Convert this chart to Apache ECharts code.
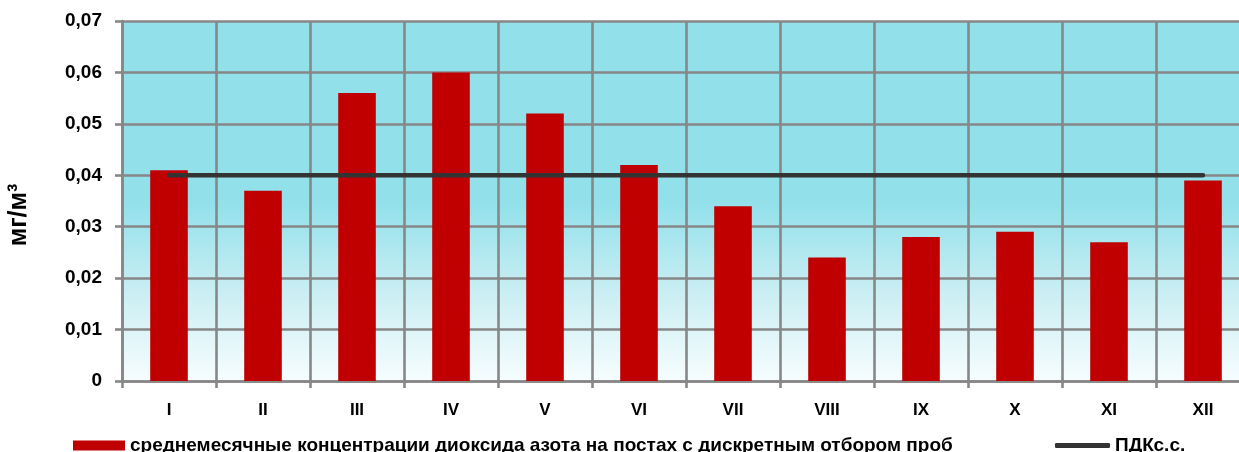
<!DOCTYPE html>
<html>
<head>
<meta charset="utf-8">
<script src="https://cdn.jsdelivr.net/npm/echarts@6/dist/echarts.min.js"></script>
<style>
html,body{margin:0;padding:0;background:#fff;}
#c{width:1239px;height:452px;}
</style>
</head>
<body>
<div id="c"></div>
<script>
const months = ['I','II','III','IV','V','VI','VII','VIII','IX','X','XI','XII'];
const no2Values = [0.041,0.037,0.056,0.060,0.052,0.042,0.034,0.024,0.028,0.029,0.027,0.039];
const pdkValues = [0.04,0.04,0.04,0.04,0.04,0.04,0.04,0.04,0.04,0.04,0.04,0.04];
const barName = 'среднемесячные концентрации диоксида азота на постах с дискретным отбором проб';
const lineName = 'ПДКс.с.';
const yAxisName = 'мг/м³';

const FONT = '"Liberation Sans", Arial, sans-serif';
const GRID = '#878787';

const chart = echarts.init(document.getElementById('c'), null, {renderer:'canvas'});
chart.setOption({
  animation:false,
  backgroundColor:'#ffffff',
  grid:{
    left:122, top:21, right:-11, bottom:71,
    containLabel:false,
    outerBoundsMode:'none',
    show:true, borderWidth:0,
    backgroundColor:{
      type:'linear', x:0, y:0, x2:0, y2:1,
      colorStops:[
        {offset:0, color:'#91E0EA'},
        {offset:0.5, color:'#91E0EA'},
        {offset:0.75, color:'#C9EEF3'},
        {offset:1, color:'#F7FDFE'}
      ]
    }
  },
  legend:[
    {
      data:[{name:barName, icon:'rect'}],
      left:73, top:436, itemWidth:52, itemHeight:10, itemGap:6, padding:0,
      textStyle:{fontFamily:FONT, fontWeight:'bold', fontSize:19, color:'#000'}
    },
    {
      data:[{name:lineName, icon:'roundRect'}],
      left:1055, top:436, itemWidth:55, itemHeight:5, itemGap:5, padding:0,
      itemStyle:{color:'#333333'},
      textStyle:{fontFamily:FONT, fontWeight:'bold', fontSize:19, color:'#000'}
    }
  ],
  xAxis:{
    type:'category',
    data:months,
    boundaryGap:true,
    axisLine:{lineStyle:{color:GRID, width:2.6}},
    axisTick:{show:true, length:7, alignWithLabel:false, lineStyle:{color:GRID, width:2.6}},
    splitLine:{show:true, lineStyle:{color:GRID, width:2.6}},
    axisLabel:{fontFamily:FONT, fontWeight:'bold', fontSize:17, color:'#000', margin:21}
  },
  yAxis:{
    type:'value',
    min:0, max:0.07, interval:0.01,
    name:yAxisName,
    nameLocation:'middle',
    nameGap:90,
    nameTextStyle:{fontFamily:FONT, fontWeight:'bold', fontSize:25, color:'#000', padding:[0,28,0,0]},
    axisLine:{show:true, lineStyle:{color:GRID, width:2.6}},
    axisTick:{show:true, length:7, lineStyle:{color:GRID, width:2.6}},
    splitLine:{show:true, lineStyle:{color:GRID, width:2.6}},
    axisLabel:{
      fontFamily:FONT, fontWeight:'bold', fontSize:19, color:'#000', margin:20,
      formatter:function(v){ return v===0 ? '0' : v.toFixed(2).replace('.', ','); }
    }
  },
  series:[
    {
      name:barName,
      type:'bar',
      data:no2Values,
      barWidth:'40%',
      itemStyle:{color:'#C00000'},
      z:2
    },
    {
      name:lineName,
      type:'line',
      data:pdkValues,
      symbol:'none',
      lineStyle:{color:'#333333', width:4.5, cap:'round'},
      itemStyle:{color:'#333333'},
      z:3
    }
  ]
});
</script>
</body>
</html>
